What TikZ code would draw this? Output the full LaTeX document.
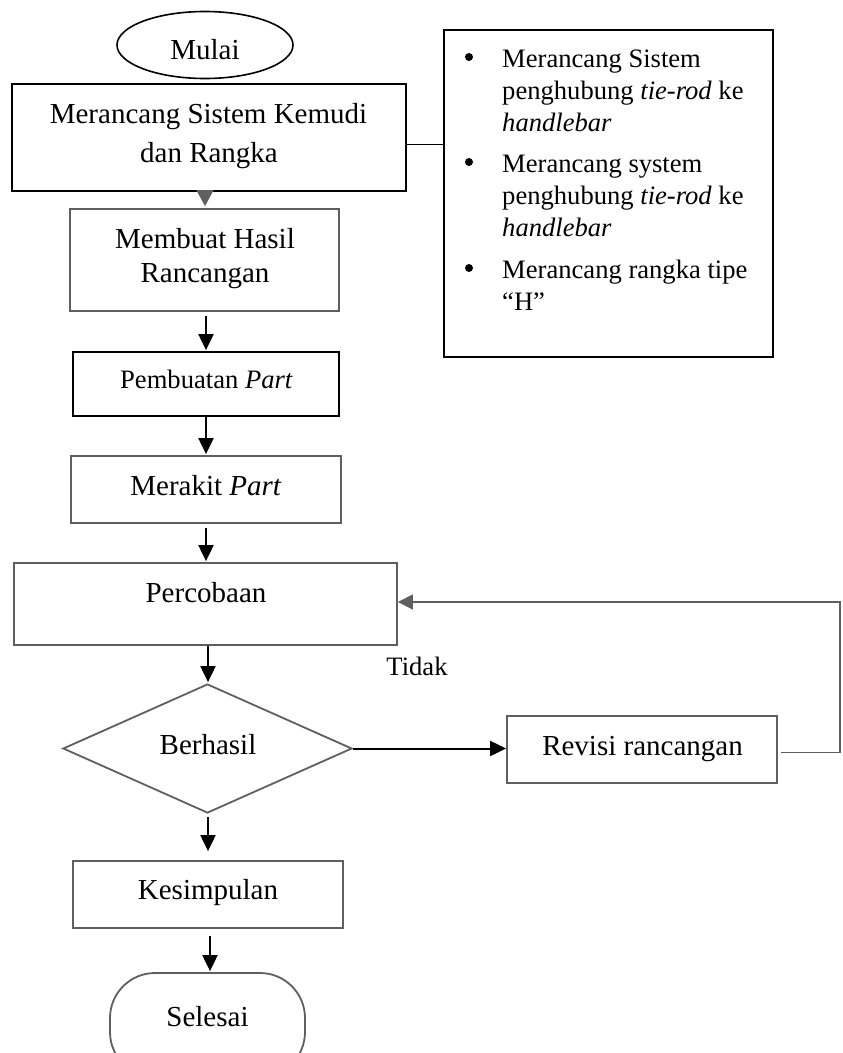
\documentclass[tikz,border=0pt]{standalone}
\usepackage{fontspec}
\setmainfont{Liberation Serif}
\usetikzlibrary{shapes.geometric,arrows.meta}
\definecolor{gline}{HTML}{5F5F5F}
\begin{document}
\begin{tikzpicture}[x=1pt,y=-1pt,
  big/.style={font=\fontsize{29}{34}\selectfont, inner sep=0pt, anchor=base},
  small/.style={font=\fontsize{26.6}{32}\selectfont, inner sep=0pt, anchor=base},
  smallw/.style={font=\fontsize{26.6}{32}\selectfont, inner sep=0pt, anchor=base west},
  bullet/.style={circle, fill=black, inner sep=0pt, minimum size=8pt},
  bbox/.style={draw=black, line width=1.8pt, rectangle, inner sep=0pt},
  gbox/.style={draw=gline, line width=1.8pt, rectangle, inner sep=0pt},
  arr/.style={-{Triangle[length=16pt,width=15pt]}, line width=2pt, draw=black},
  garr/.style={-{Triangle[length=15pt,width=15pt]}, line width=1.3pt, draw=gline, color=gline},
]
\useasboundingbox (0,0) rectangle (843,1053);
\clip (0,0) rectangle (843,1053);

% shapes
\node[ellipse, draw=black, line width=1.6pt, minimum width=176pt, minimum height=67pt, inner sep=0pt] (mulai) at (205,45) {};
\node[bbox, minimum width=394pt, minimum height=107pt] (box1) at (209,137.5) {};
\node[gbox, minimum width=269pt, minimum height=102pt] (box2) at (204.5,260) {};
\node[bbox, minimum width=266pt, minimum height=64pt] (box3) at (206,384) {};
\node[gbox, minimum width=270pt, minimum height=67pt] (box4) at (206,489.5) {};
\node[gbox, minimum width=383pt, minimum height=82pt] (perc) at (205.5,604) {};
\node[diamond, draw=gline, line width=1.8pt, inner sep=0pt, minimum width=289pt, minimum height=129pt] (dia) at (207.5,748.5) {};
\node[gbox, minimum width=270pt, minimum height=67pt] (revisi) at (642,749.5) {};
\node[gbox, minimum width=270pt, minimum height=67pt] (kes) at (208,894.5) {};
\node[gbox, rounded corners=45pt, minimum width=195pt, minimum height=104pt] (selesai) at (207.5,1025) {};
\node[bbox, minimum width=329pt, minimum height=327pt] (rbox) at (608.5,193.5) {};

% texts
\node[big] (tmulai) at (205,59) {Mulai};
\node[big] (t1a) at (208.5,123) {Merancang Sistem Kemudi};
\node[big] (t1b) at (209,162) {dan Rangka};
\node[big] (t2a) at (205,248) {Membuat Hasil};
\node[big] (t2b) at (205,282) {Rancangan};
\node[small] (t3) at (206.5,388) {Pembuatan \textit{Part}};
\node[big] (t4) at (206,495) {Merakit \textit{Part}};
\node[big] (t5) at (206,602) {Percobaan};
\node[big] (t6) at (208,754) {Berhasil};
\node[small] (tidak) at (417,675) {Tidak};
\node[big] (t7) at (642.5,755) {Revisi rancangan};
\node[big] (t8) at (208,899) {Kesimpulan};
\node[big] (t9) at (207.5,1026) {Selesai};

% list in right box
\node[bullet] (b1) at (469,57) {};
\node[smallw] (l1) at (502,67) {Merancang Sistem};
\node[smallw] (l2) at (502,99) {penghubung \textit{tie-rod} ke};
\node[smallw] (l3) at (502,131) {\textit{handlebar}};
\node[bullet] (b2) at (469,162) {};
\node[smallw] (l4) at (502,172) {Merancang system};
\node[smallw] (l5) at (502,204) {penghubung \textit{tie-rod} ke};
\node[smallw] (l6) at (502,236) {\textit{handlebar}};
\node[bullet] (b3) at (469,268) {};
\node[smallw] (l7) at (502,278) {Merancang rangka tipe};
\node[smallw] (l8) at (502,310) {“H”};

% column coordinates for vertical arrows
\coordinate (c1) at (205,0);
\coordinate (c2) at (206,0);
\coordinate (c3) at (208,0);
\coordinate (c4) at (210,0);

% connectors
\draw[line width=1.6pt] ([yshift=-7pt]box1.east) -- ([yshift=-7pt]box1.east -| rbox.west);
\draw[-{Triangle[length=16pt,width=17pt]}, draw=gline, color=gline, line width=1.2pt, shorten >=2pt] (box1.south -| c1) -- (box2.north -| c1);
\draw[arr, shorten <=4pt, shorten >=1pt] (box2.south -| c2) -- (box3.north -| c2);
\draw[arr, shorten >=1pt] (box3.south -| c2) -- (box4.north -| c2);
\draw[arr, shorten <=4pt, shorten >=1pt] (box4.south -| c2) -- (perc.north -| c2);
\draw[arr, shorten >=1pt] (perc.south -| c3) -- (dia.north -| c3);
\draw[arr, shorten <=3pt, shorten >=9pt] (dia.south -| c3) -- (kes.north -| c3);
\draw[arr, shorten <=7pt, shorten >=1pt] (kes.south -| c4) -- (selesai.north -| c4);
\draw[arr] (dia.east) -- (dia.east -| revisi.west);
\coordinate (fb) at (840,602);
\draw[garr] ([xshift=3pt,yshift=-3pt]revisi.east) -| (fb) -- (fb -| perc.east);
\end{tikzpicture}
\end{document}
